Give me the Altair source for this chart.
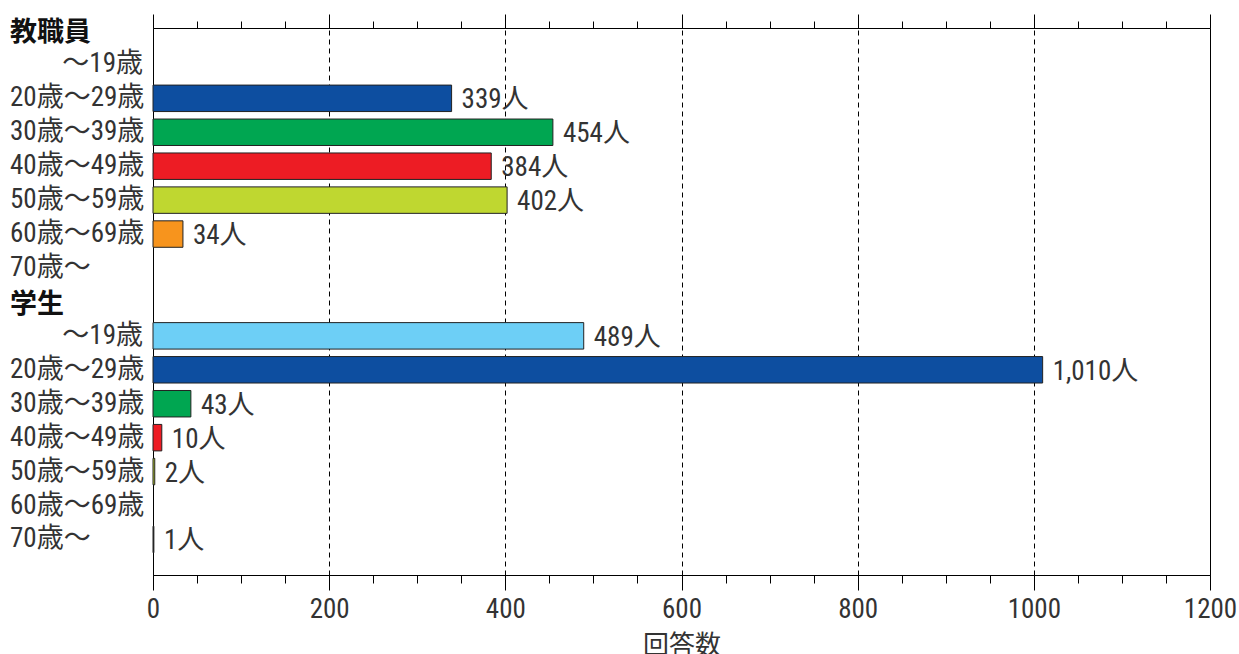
import altair as alt
import pandas as pd

# Respondents by age band, for staff and for students
groups = ["教職員", "学生"]
ages = ["～19歳", "20歳～29歳", "30歳～39歳", "40歳～49歳", "50歳～59歳", "60歳～69歳", "70歳～"]
staff = [None, 339, 454, 384, 402, 34, None]
students = [489, 1010, 43, 10, 2, None, 1]
age_colors = ["#6dcff6", "#0d4ea0", "#00a651", "#ed1c24", "#bfd730", "#f7941d", "#3a3a3a"]

major_ticks = list(range(0, 1201, 200))
minor_ticks = [v for v in range(0, 1201, 50) if v % 200]

# One row per group header and per age band
label_rows, bar_rows = [], []
row = 0
for group, values in zip(groups, [staff, students]):
    label_rows.append({"r": row, "text": group, "kind": "header"})
    row += 1
    for age, v in zip(ages, values):
        label_rows.append({"r": row, "text": age,
                           "kind": "right" if age.startswith("～") else "left"})
        if v is not None:
            bar_rows.append({"r": row, "age": age, "value": v, "label": f"{v:,}人"})
        row += 1

bar_df = pd.DataFrame(bar_rows)
label_df = pd.DataFrame(label_rows)

FONT = "Liberation Sans Narrow, Roboto Condensed, Roboto, Noto Sans CJK JP, sans-serif"
TEXT_COLOR = "#333333"

x_scale = alt.Scale(domain=[0, 1200], nice=False, zero=True, padding=0)
y_scale = alt.Scale(domain=[0.075, 15.9], reverse=True, nice=False, zero=False)

base = alt.Chart(bar_df).transform_calculate(
    lo="datum.r - 0.39", hi="datum.r + 0.39"
)

bars = base.mark_bar(stroke="#222222", strokeWidth=1, orient="horizontal").encode(
    x=alt.X("value:Q", scale=x_scale,
            axis=alt.Axis(orient="bottom", values=major_ticks, tickSize=15,
                          format="d",
                          title="回答数", titleFontSize=26, titleFont=FONT,
                          titleFontWeight="normal", titleColor=TEXT_COLOR,
                          titlePadding=10,
                          labelFontSize=27, labelFont=FONT, labelColor=TEXT_COLOR,
                          labelPadding=6, labelFlush=False,
                          grid=True, gridDash=[5, 4], gridColor="#000000",
                          gridWidth=1)),
    x2=alt.X2(datum=0),
    y=alt.Y("lo:Q", scale=y_scale, axis=None),
    y2="hi:Q",
    color=alt.Color("age:N", scale=alt.Scale(domain=ages, range=age_colors), legend=None),
)

value_text = base.mark_text(align="left", baseline="middle", dx=10, dy=2,
                            fontSize=27, font=FONT, color=TEXT_COLOR).encode(
    x=alt.X("value:Q", scale=x_scale,
            axis=alt.Axis(orient="top", values=major_ticks, tickSize=14,
                          labels=False, title=None, domain=True)),
    y=alt.Y("r:Q", scale=y_scale, axis=None),
    text="label:N",
)

minor_bottom = base.mark_point(opacity=0).encode(
    x=alt.X("value:Q", scale=x_scale,
            axis=alt.Axis(orient="bottom", values=minor_ticks, tickSize=8,
                          labels=False, title=None, domain=False, grid=False)),
    y=alt.Y("r:Q", scale=y_scale, axis=None),
)

minor_top = base.mark_point(opacity=0).encode(
    x=alt.X("value:Q", scale=x_scale,
            axis=alt.Axis(orient="top", values=minor_ticks, tickSize=7,
                          labels=False, title=None, domain=False, grid=False)),
    y=alt.Y("r:Q", scale=y_scale, axis=None),
)

labels = alt.Chart(label_df)

header_labels = labels.transform_filter("datum.kind == 'header'").mark_text(
    align="left", baseline="middle", fontSize=27, font=FONT, fontWeight="bold",
    color="#111111", dy=3
).encode(
    x=alt.value(-143),
    y=alt.Y("r:Q", scale=y_scale, axis=None),
    text="text:N",
)

left_labels = labels.transform_filter("datum.kind == 'left'").mark_text(
    align="left", baseline="middle", fontSize=27, font=FONT, color=TEXT_COLOR
).encode(
    x=alt.value(-143),
    y=alt.Y("r:Q", scale=y_scale, axis=None),
    text="text:N",
)

right_labels = labels.transform_filter("datum.kind == 'right'").mark_text(
    align="right", baseline="middle", fontSize=27, font=FONT, color=TEXT_COLOR
).encode(
    x=alt.value(-10),
    y=alt.Y("r:Q", scale=y_scale, axis=None),
    text="text:N",
)

chart = alt.layer(
    bars, minor_bottom, minor_top, value_text, header_labels, left_labels, right_labels
).resolve_axis(x="independent").properties(
    width=1057, height=547,
    autosize=alt.AutoSizeParams(type="none"),
    padding={"left": 153, "top": 28, "right": 29, "bottom": 79},
).configure_view(
    stroke="#000000", strokeWidth=1
).configure_axis(
    domainColor="#000000", tickColor="#000000", domainWidth=1, tickWidth=1
)

chart.save("out.html", embed_options={"renderer": "svg", "actions": False})
